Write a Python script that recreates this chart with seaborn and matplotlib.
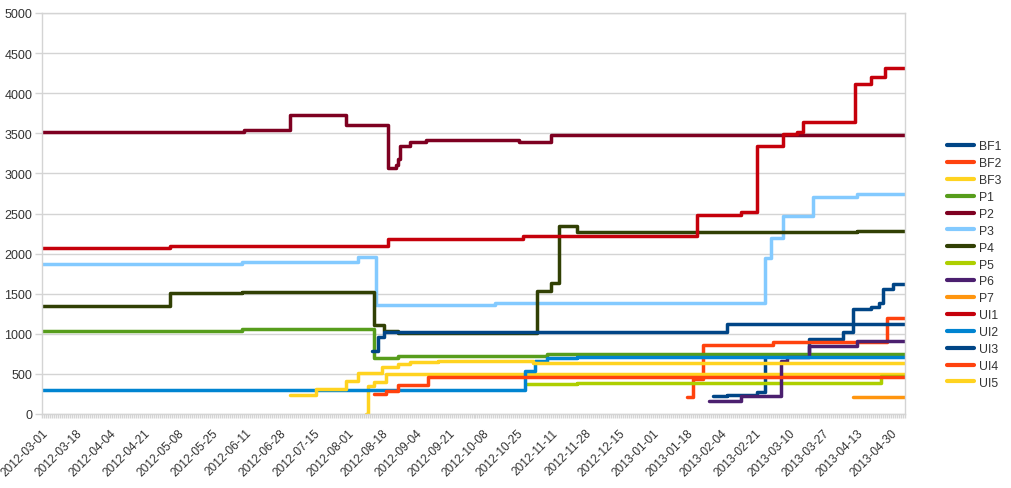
import matplotlib
matplotlib.use("Agg")
import matplotlib.pyplot as plt
import matplotlib.dates as mdates
import pandas as pd
import seaborn as sns

END_DATE = "2013-05-07"

series_names = ["BF1", "BF2", "BF3", "P1", "P2", "P3", "P4", "P5", "P6", "P7",
                "UI1", "UI2", "UI3", "UI4", "UI5"]
series_colors = ["#004586", "#ff420e", "#ffd320", "#579d1c", "#7e0021", "#83caff",
                 "#314004", "#aecf00", "#4b1f6f", "#ff950e", "#c5000b", "#0084d1",
                 "#004586", "#ff420e", "#ffd320"]

# step change points (date, value) for each series
BF1_dates = ["2013-01-31", "2013-02-07", "2013-02-22", "2013-02-26", "2013-03-09",
             "2013-03-20", "2013-04-06", "2013-04-11", "2013-04-20", "2013-04-24",
             "2013-04-26", "2013-05-01"]
BF1_values = [220, 240, 270, 720, 740, 935, 1020, 1310, 1340, 1390, 1560, 1625]

BF2_dates = ["2013-01-18", "2013-01-21", "2013-01-26", "2013-03-02", "2013-04-28"]
BF2_values = [215, 436, 865, 895, 1195]

BF3_dates = ["2012-08-10", "2012-08-11", "2012-08-14", "2012-08-20"]
BF3_values = [0, 350, 400, 500]

P1_dates = ["2012-03-01", "2012-06-09", "2012-08-14", "2012-08-26", "2012-11-09"]
P1_values = [1040, 1060, 700, 725, 750]

P2_dates = ["2012-03-01", "2012-06-10", "2012-07-03", "2012-07-31", "2012-08-21",
            "2012-08-25", "2012-08-26", "2012-08-27", "2012-09-01", "2012-09-09",
            "2012-10-26", "2012-11-11"]
P2_values = [3510, 3540, 3730, 3600, 3070, 3100, 3180, 3345, 3395, 3420, 3395, 3480]

P3_dates = ["2012-03-01", "2012-06-09", "2012-08-06", "2012-08-15", "2012-10-14",
            "2013-02-26", "2013-03-01", "2013-03-07", "2013-03-22", "2013-04-13"]
P3_values = [1870, 1890, 1960, 1365, 1390, 1940, 2195, 2475, 2700, 2740]

P4_dates = ["2012-03-01", "2012-05-04", "2012-06-09", "2012-08-14", "2012-08-19",
            "2012-08-26", "2012-11-04", "2012-11-11", "2012-11-15", "2012-11-24",
            "2013-04-13"]
P4_values = [1350, 1510, 1525, 1110, 1035, 1010, 1535, 1635, 2350, 2270, 2285]

P5_dates = ["2012-10-30", "2012-11-24", "2013-04-25"]
P5_values = [374, 392, 470]

P6_dates = ["2013-01-29", "2013-02-14", "2013-03-06", "2013-03-09", "2013-03-20",
            "2013-04-13"]
P6_values = [165, 228, 665, 705, 850, 910]

P7_dates = ["2013-04-11"]
P7_values = [215]

UI1_dates = ["2012-03-01", "2012-05-04", "2012-08-21", "2012-10-28", "2013-01-23",
             "2013-02-14", "2013-02-22", "2013-03-07", "2013-03-14", "2013-03-17",
             "2013-04-12", "2013-04-20", "2013-04-27"]
UI1_values = [2075, 2095, 2180, 2215, 2480, 2520, 3345, 3490, 3515, 3635, 4115,
              4200, 4320]

UI2_dates = ["2012-03-01", "2012-10-29", "2012-11-03", "2012-11-09", "2012-11-24"]
UI2_values = [303, 530, 660, 695, 712]

UI3_dates = ["2012-08-13", "2012-08-16", "2012-08-19", "2013-02-07"]
UI3_values = [790, 955, 1025, 1120]

UI4_dates = ["2012-08-14", "2012-08-20", "2012-08-26", "2012-09-10"]
UI4_values = [250, 290, 360, 458]

UI5_dates = ["2012-07-03", "2012-07-16", "2012-07-31", "2012-08-06", "2012-08-18",
             "2012-08-26", "2012-09-01", "2012-09-15", "2012-11-02"]
UI5_values = [240, 312, 415, 505, 590, 625, 645, 655, 632]

tick_dates = pd.date_range("2012-03-01", "2013-04-30", freq="17D")

series_data = {
    "BF1": (BF1_dates, BF1_values), "BF2": (BF2_dates, BF2_values),
    "BF3": (BF3_dates, BF3_values), "P1": (P1_dates, P1_values),
    "P2": (P2_dates, P2_values), "P3": (P3_dates, P3_values),
    "P4": (P4_dates, P4_values), "P5": (P5_dates, P5_values),
    "P6": (P6_dates, P6_values), "P7": (P7_dates, P7_values),
    "UI1": (UI1_dates, UI1_values), "UI2": (UI2_dates, UI2_values),
    "UI3": (UI3_dates, UI3_values), "UI4": (UI4_dates, UI4_values),
    "UI5": (UI5_dates, UI5_values),
}

rows = []
for name in series_names:
    dates, values = series_data[name]
    for d, v in zip(dates + [END_DATE], values + [values[-1]]):
        rows.append({"series": name, "date": pd.Timestamp(d), "value": v})
df = pd.DataFrame(rows)

sns.set_theme(style="white")
plt.rcParams["font.family"] = ["Liberation Sans", "DejaVu Sans"]

fig = plt.figure(figsize=(10.12, 4.89), dpi=100)
ax = fig.add_axes([42 / 1012, 1 - 415 / 489, (905 - 42) / 1012, (415 - 14) / 489])

palette = dict(zip(series_names, series_colors))
sns.lineplot(data=df, x="date", y="value", hue="series", hue_order=series_names,
             palette=palette, estimator=None, errorbar=None, sort=True,
             drawstyle="steps-post", linewidth=2.5, ax=ax)

grid_c = "#d4d4d4"
ax.set_ylim(0, 5000)
ax.set_yticks(range(0, 5001, 500))
ax.yaxis.grid(True, color=grid_c, linewidth=1)
ax.xaxis.grid(False)
ax.set_axisbelow(True)
ax.set_xlim(pd.Timestamp("2012-03-01"), pd.Timestamp(END_DATE))
ax.set_xticks(tick_dates)
ax.set_xticklabels([d.strftime("%Y-%m-%d") for d in tick_dates], rotation=45,
                   ha="right", rotation_mode="anchor")
ax.xaxis.set_minor_locator(mdates.DayLocator())
ax.tick_params(axis="x", which="both", bottom=True, length=3, width=1, color=grid_c,
               labelsize=8.6, labelcolor="#333333", pad=6)
ax.tick_params(axis="y", which="major", left=True, length=5, width=1, color=grid_c,
               labelsize=9, labelcolor="#333333", pad=2)
for s in ax.spines.values():
    s.set_color(grid_c)
    s.set_linewidth(1)
ax.set_xlabel("")
ax.set_ylabel("")

handles, labels = ax.get_legend_handles_labels()
ax.get_legend().remove()
leg = fig.legend(handles, labels, loc="center left", bbox_to_anchor=(0.933, 0.457),
                 frameon=False, fontsize=8.8, handlelength=2.2, handletextpad=0.45,
                 labelspacing=0.4, borderaxespad=0, borderpad=0.2)
for t in leg.get_texts():
    t.set_color("#333333")
for l in leg.get_lines():
    l.set_linewidth(3)

fig.savefig("out.png", dpi=100)
